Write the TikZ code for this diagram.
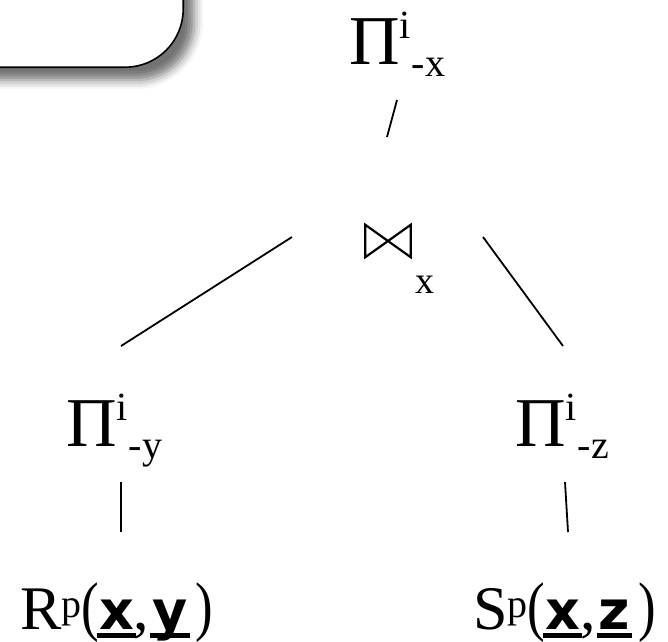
\documentclass[tikz,border=0pt]{standalone}
\usepackage{fontspec}
\setmainfont{Liberation Serif}
\newfontfamily\attrfamily{DejaVu Sans}
\usetikzlibrary{calc,shadows.blur}

\newcommand\subsize{\fontsize{40}{40}\selectfont}
\newcommand\supsize{\fontsize{40}{40}\selectfont}
\newcommand\parsize{\fontsize{66}{66}\selectfont}
\newcommand\attrsize{\attrfamily\bfseries\fontsize{54}{54}\selectfont}
\newcommand\projlab[1]{Π\raisebox{26pt}{\subsize i}\hspace{1pt}\raisebox{-12pt}{\subsize -#1}}
\newcommand\uattr[1]{\setbox0\hbox{\attrsize #1}\rlap{\hspace{-2pt}\rule[-9pt]{\dimexpr\wd0+4pt}{5pt}}\box0}
\newcommand\relparen[1]{\raisebox{1pt}{\parsize\scalebox{0.8}[1]{#1}}}
\newcommand\rellab[3]{#1\raisebox{12pt}{\supsize p}\relparen{(}\uattr{#2},\hspace{3pt}\uattr{#3}\hspace{8pt}\relparen{)}}

\tikzset{
  proj/.style    = {inner sep=0pt, anchor=base west, font=\fontsize{70}{70}\selectfont},
  rel/.style     = {inner sep=0pt, anchor=base west, font=\fontsize{62}{62}\selectfont},
  joinop/.style  = {inner sep=0pt, minimum width=45pt, minimum height=32pt},
  joinline/.style= {line width=2.2pt, line join=miter},
  attr/.style    = {inner sep=0pt, anchor=base west, font=\fontsize{38}{38}\selectfont},
  edge/.style    = {line width=1.8pt},
  callout/.style = {draw, line width=1.6pt, fill=white, rounded corners=58pt,
                    minimum width=420pt, minimum height=240pt, anchor=south east,
                    blur shadow={shadow xshift=11pt, shadow yshift=-13pt,
                                 shadow blur radius=9pt, shadow opacity=55}}
}

\begin{document}
\begin{tikzpicture}[x=1pt, y=-1pt]
  \useasboundingbox (0,0) rectangle (668,641);
  \node[callout] (note) at (184,68) {};

  \node[proj]   (projx) at (349,64)  {\projlab{x}};
  \node[joinop] (join)  at (388,241) {};
  \node[attr]   (joinx) at (415,293) {x};
  \node[proj]   (projy) at (66,446)  {\projlab{y}};
  \node[proj]   (projz) at (515,446) {\projlab{z}};
  \node[rel]    (relr)  at (20,629)  {\rellab{R}{x}{y}};
  \node[rel]    (rels)  at (473,629) {\rellab{S}{x}{z}};

  % bowtie
  \draw[joinline] (join.north west) -- (join.south east) -- (join.north east)
                  -- (join.south west) -- cycle;

  \draw[edge] ($(projx.base west)+(48,36)$) -- ($(join)+(-1,-104)$);
  \draw[edge] ($(join)+(-96,-4)$) -- ($(projy.base west)+(55,-100)$);
  \draw[edge] ($(join)+(95,-4)$) -- ($(projz.base west)+(48,-100)$);
  \draw[edge] ($(projy.base west)+(55,36)$) -- ($(relr.base west)+(101,-97)$);
  \draw[edge] ($(projz.base west)+(50,36)$) -- ($(rels.base west)+(95,-97)$);
\end{tikzpicture}
\end{document}
